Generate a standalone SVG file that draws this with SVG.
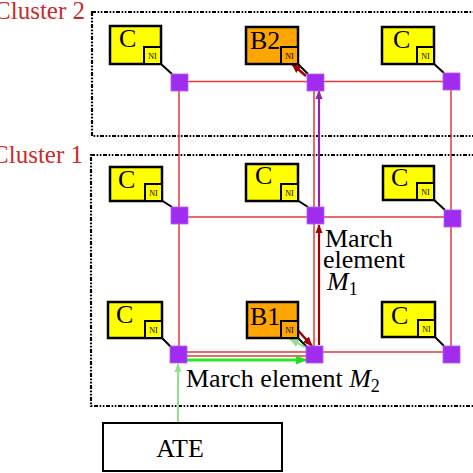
<svg xmlns="http://www.w3.org/2000/svg" width="473" height="473" viewBox="0 0 473 473">
<style>
.cl{fill:none;stroke:#000;stroke-width:2.2;stroke-dasharray:4 1.6 1.6 1.6 1.6 1.6}
.clab{font-family:'Liberation Serif','DejaVu Serif',serif;font-size:25px;fill:#cc2a2a}
.core{stroke:#000;stroke-width:2.5}
.y{fill:#ffff00}
.o{fill:#ffa500}
.ni{stroke:#000;stroke-width:2}
.lbl{font-family:'Liberation Serif','DejaVu Serif',serif;font-size:26px;fill:#000}
.nit{font-family:'Liberation Serif','DejaVu Serif',serif;font-size:8px;fill:#000;text-anchor:middle}
.link{stroke:#e03a3a;stroke-width:1.5;fill:none}
.att{stroke:#000;stroke-width:2}
.rt{fill:#a02cf0;stroke:#b75cf5;stroke-width:0.8}
.txt{font-family:'Liberation Serif','DejaVu Serif',serif;font-size:26px;fill:#000}
</style>
<defs>
<marker id="aG" viewBox="0 0 10 10" refX="9" refY="5" markerWidth="4" markerHeight="4" orient="auto" markerUnits="strokeWidth"><path d="M0,1 L10,5 L0,9 z" fill="#22dd22"/></marker>
<marker id="aL" viewBox="0 0 10 10" refX="9" refY="5" markerWidth="4.5" markerHeight="4.5" orient="auto" markerUnits="strokeWidth"><path d="M0,1 L10,5 L0,9 z" fill="#90e090"/></marker>
<marker id="aR" viewBox="0 0 10 10" refX="9" refY="5" markerWidth="4" markerHeight="4" orient="auto" markerUnits="strokeWidth"><path d="M0,1 L10,5 L0,9 z" fill="#a00000"/></marker>
<marker id="aP" viewBox="0 0 10 10" refX="9" refY="5" markerWidth="4" markerHeight="4" orient="auto" markerUnits="strokeWidth"><path d="M0,1 L10,5 L0,9 z" fill="#8e24aa"/></marker>
</defs>
<rect width="473" height="473" fill="#fff"/>

<g id="cluster2"><rect class="cl" x="92" y="12" width="400" height="124"/><text class="clab" x="85" y="19" text-anchor="end">Cluster 2</text></g>
<g id="cluster1"><rect class="cl" x="91" y="155" width="400" height="251"/><text class="clab" x="83" y="163" text-anchor="end">Cluster 1</text></g>

<g id="connectors">
<line class="link" x1="179" y1="81.5" x2="451" y2="81.5"/>
<line class="link" x1="179" y1="217" x2="452" y2="217"/>
<line class="link" x1="178" y1="352" x2="451" y2="352"/>
<line class="link" x1="186" y1="356" x2="306" y2="356"/>
<line class="link" x1="179" y1="82" x2="179" y2="354"/>
<line class="link" x1="314" y1="82" x2="314" y2="354"/>
<line class="link" x1="451" y1="81" x2="451" y2="354"/>
<line class="att" x1="161" y1="64" x2="172" y2="74"/>
<line class="att" x1="297" y1="63" x2="308" y2="74"/>
<line class="att" x1="433" y1="63" x2="444" y2="73"/>
<line class="att" x1="161" y1="200" x2="172" y2="207"/>
<line class="att" x1="297" y1="200" x2="308" y2="207"/>
<line class="att" x1="433" y1="199" x2="445" y2="210"/>
<line class="att" x1="161" y1="337" x2="171" y2="347"/>
<line class="att" x1="297" y1="337" x2="307" y2="347"/>
<line class="att" x1="434" y1="336" x2="444" y2="346"/>
<line x1="319" y1="345" x2="319" y2="225" stroke="#a00000" stroke-width="2.2" marker-end="url(#aR)"/>
<line x1="319" y1="207" x2="319" y2="91" stroke="#8e24aa" stroke-width="2.2" marker-end="url(#aP)"/>
<line x1="306" y1="76" x2="292" y2="64" stroke="#a00000" stroke-width="2.5" marker-end="url(#aR)"/>
<line x1="294" y1="326" x2="312" y2="346" stroke="#a00000" stroke-width="2.5" marker-end="url(#aR)"/>
<line x1="305" y1="347" x2="290" y2="339" stroke="#90e090" stroke-width="2.2" marker-end="url(#aL)"/>
<line x1="187" y1="360" x2="306" y2="360" stroke="#22ee22" stroke-width="2.8" marker-end="url(#aG)"/>
<line x1="178" y1="423" x2="178" y2="364" stroke="#90e090" stroke-width="2" marker-end="url(#aL)"/>
</g>

<g id="r11"><rect class="rt" x="171" y="74" width="17" height="17"/></g>
<g id="r12"><rect class="rt" x="307" y="74" width="17" height="17"/></g>
<g id="r13"><rect class="rt" x="443" y="73" width="17" height="17"/></g>
<g id="r21"><rect class="rt" x="171" y="207" width="17" height="17"/></g>
<g id="r22"><rect class="rt" x="307" y="207" width="17" height="17"/></g>
<g id="r23"><rect class="rt" x="444" y="210" width="17" height="17"/></g>
<g id="r31"><rect class="rt" x="170" y="346" width="17" height="17"/></g>
<g id="r32"><rect class="rt" x="306" y="346" width="17" height="17"/></g>
<g id="r33"><rect class="rt" x="443" y="346" width="17" height="17"/></g>

<g id="core11"><rect class="core y" x="110" y="26" width="51" height="38"/><rect class="ni y" x="144" y="47" width="17" height="17"/><text class="lbl" x="119" y="47">C</text><text class="nit" x="152.5" y="59">NI</text></g>
<g id="coreB2"><rect class="core o" x="246" y="27" width="52" height="37"/><rect class="ni o" x="281" y="47" width="17" height="17"/><text class="lbl" x="250" y="49">B2</text><text class="nit" x="289.5" y="59">NI</text></g>
<g id="core13"><rect class="core y" x="382" y="27" width="52" height="37"/><rect class="ni y" x="417" y="47" width="17" height="17"/><text class="lbl" x="393" y="48">C</text><text class="nit" x="425.5" y="59">NI</text></g>
<g id="core21"><rect class="core y" x="110" y="167" width="52" height="34"/><rect class="ni y" x="145" y="184" width="17" height="17"/><text class="lbl" x="118" y="188">C</text><text class="nit" x="153.5" y="196">NI</text></g>
<g id="core22"><rect class="core y" x="246" y="164" width="52" height="37"/><rect class="ni y" x="281" y="184" width="17" height="17"/><text class="lbl" x="255" y="184">C</text><text class="nit" x="289.5" y="196">NI</text></g>
<g id="core23"><rect class="core y" x="383" y="166" width="51" height="34"/><rect class="ni y" x="417" y="183" width="17" height="17"/><text class="lbl" x="391" y="186">C</text><text class="nit" x="425.5" y="195">NI</text></g>
<g id="core31"><rect class="core y" x="108" y="302" width="54" height="36"/><rect class="ni y" x="145" y="321" width="17" height="17"/><text class="lbl" x="116" y="323">C</text><text class="nit" x="153.5" y="333">NI</text></g>
<g id="coreB1"><rect class="core o" x="247" y="302" width="51" height="36"/><rect class="ni o" x="281" y="321" width="17" height="17"/><text class="lbl" x="250" y="325">B1</text><text class="nit" x="289.5" y="333">NI</text></g>
<g id="core33"><rect class="core y" x="382" y="302" width="53" height="35"/><rect class="ni y" x="418" y="320" width="17" height="17"/><text class="lbl" x="391" y="324">C</text><text class="nit" x="426.5" y="332">NI</text></g>

<g id="ate"><rect x="103" y="423" width="179" height="48" fill="#fff" stroke="#000" stroke-width="2"/><text class="txt" x="180" y="457" text-anchor="middle">ATE</text></g>

<g id="labelM1">
<text class="txt" x="325" y="247">March</text>
<text class="txt" x="323" y="268">element</text>
<text class="txt" x="327" y="290"><tspan font-style="italic">M</tspan><tspan font-size="18" dy="5">1</tspan></text>
</g>
<g id="labelM2">
<text class="txt" x="186" y="387">March element <tspan font-style="italic">M</tspan><tspan font-size="18" dy="5">2</tspan></text>
</g>
</svg>
